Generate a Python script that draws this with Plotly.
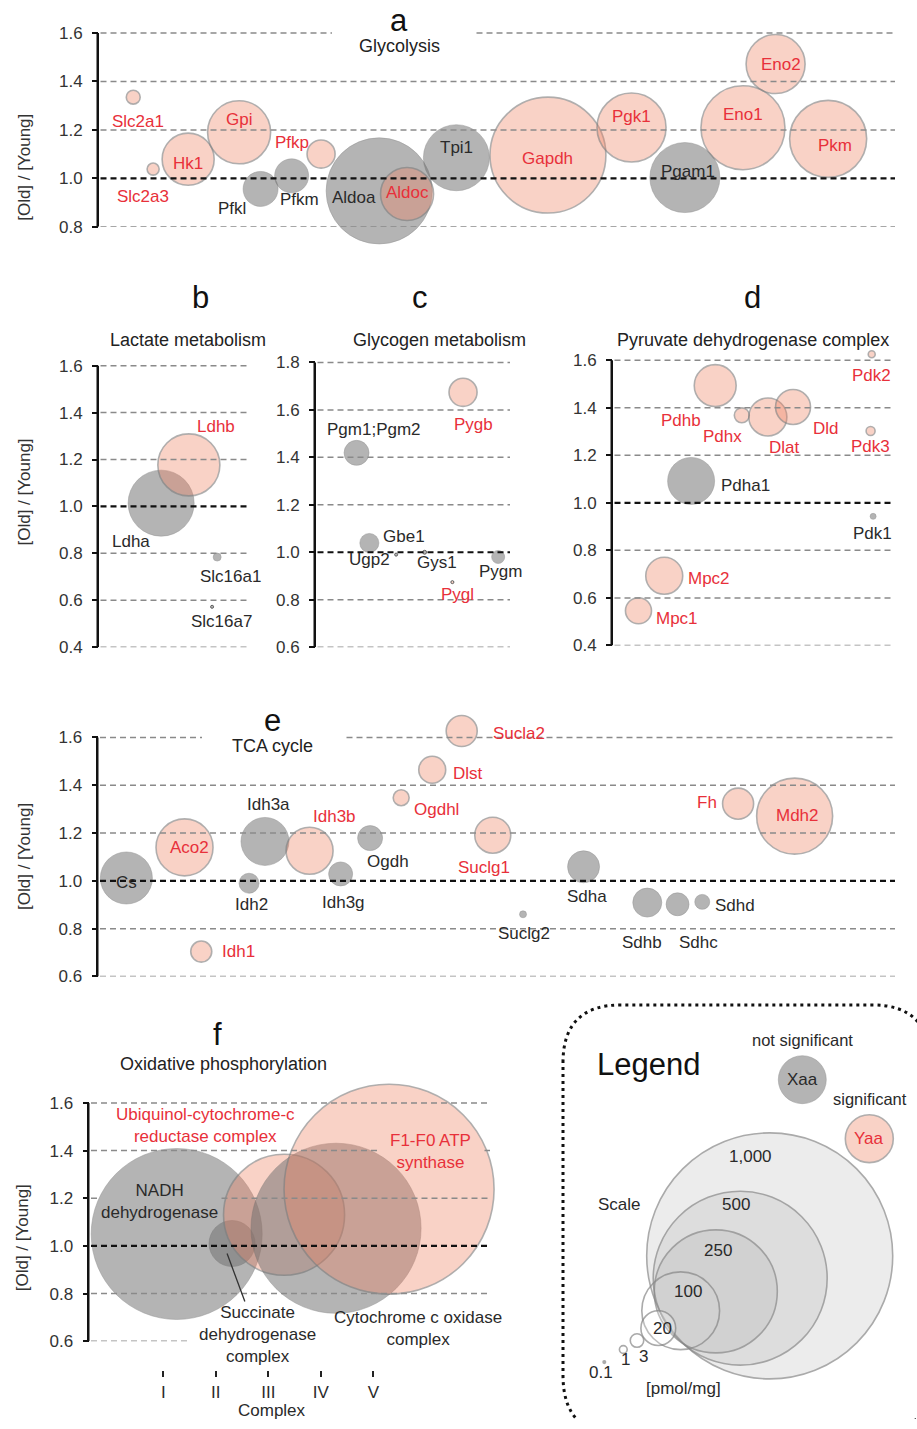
import math
import plotly.graph_objects as go

W, H = 917, 1429

# ---------------- data ----------------
# a  Glycolysis
glyc_genes = ["Slc2a1", "Slc2a3", "Hk1", "Gpi", "Pfkl", "Pfkm", "Pfkp", "Aldoa", "Aldoc",
              "Tpi1", "Gapdh", "Pgk1", "Pgam1", "Eno1", "Eno2", "Pkm"]
glyc_pos = [4.3, 6.8, 11.2, 17.6, 20.3, 24.2, 27.9, 35.2, 38.7, 44.9, 56.4, 66.9, 73.6, 80.9, 85.0, 91.6]
glyc_ratio = [1.335, 1.038, 1.079, 1.19, 0.956, 1.01, 1.10, 0.948, 0.935, 1.085, 1.096, 1.21,
              1.003, 1.209, 1.472, 1.163]
glyc_amount = [3.2, 2.4, 44.7, 65.6, 20.2, 19.1, 13.0, 186, 46.4, 72, 222, 78.7, 81, 116.6, 57.5, 98]
glyc_sig = [1, 1, 1, 1, 0, 0, 1, 0, 1, 0, 1, 1, 0, 1, 1, 1]

# b  Lactate metabolism
lact_genes = ["Ldha", "Ldhb", "Slc16a1", "Slc16a7"]
lact_pos = [41.7, 60.3, 79.3, 75.9]
lact_ratio = [1.014, 1.177, 0.784, 0.572]
lact_amount = [72, 63.5, 1.06, 0.15]
lact_sig = [0, 1, 0, 0]

# c  Glycogen metabolism
glycogen_genes = ["Pgm1;Pgm2", "Ugp2", "Gbe1", "Gys1", "Pygl", "Pygb", "Pygm"]
glycogen_pos = [20.9, 27.5, 41.3, 56.0, 70.3, 75.8, 93.9]
glycogen_ratio = [1.419, 1.039, 0.99, 1.0, 0.874, 1.674, 0.98]
glycogen_amount = [10.3, 6.0, 0.15, 0.25, 0.15, 13.0, 2.8]
glycogen_sig = [0, 0, 0, 0, 1, 1, 0]

# d  Pyruvate dehydrogenase complex
pdh_genes = ["Mpc1", "Mpc2", "Pdha1", "Pdhb", "Pdhx", "Dlat", "Dld", "Pdk1", "Pdk2", "Pdk3"]
pdh_pos = [9.1, 18.3, 27.9, 36.5, 46.0, 55.3, 64.3, 92.9, 92.4, 92.0]
pdh_ratio = [0.546, 0.693, 1.092, 1.493, 1.368, 1.361, 1.403, 0.943, 1.625, 1.302]
pdh_amount = [11.2, 22.6, 36.5, 29.0, 3.7, 23.9, 20.2, 0.6, 0.8, 1.34]
pdh_sig = [1, 1, 0, 1, 1, 1, 1, 0, 1, 1]

# e  TCA cycle
tca_genes = ["Cs", "Aco2", "Idh1", "Idh2", "Idh3a", "Idh3b", "Idh3g", "Ogdh", "Ogdhl", "Dlst",
             "Sucla2", "Suclg1", "Suclg2", "Sdha", "Sdhb", "Sdhc", "Sdhd", "Fh", "Mdh2"]
tca_pos = [3.5, 10.8, 12.9, 18.9, 20.9, 26.5, 30.4, 34.1, 38.0, 41.9, 45.6, 49.5, 53.3, 60.9,
           68.9, 72.7, 75.8, 80.3, 87.4]
tca_ratio = [1.012, 1.14, 0.704, 0.99, 1.165, 1.126, 1.029, 1.179, 1.348, 1.465, 1.627, 1.191,
             0.86, 1.059, 0.909, 0.902, 0.912, 1.323, 1.271]
tca_amount = [44.7, 53.7, 7.3, 6.6, 38, 36.5, 9.5, 10.3, 4.2, 12, 15.9, 21.4, 0.8, 16.9, 13.9,
              8.7, 3.7, 15.9, 95.4]
tca_sig = [0, 1, 1, 0, 0, 1, 0, 0, 1, 1, 1, 1, 0, 0, 0, 0, 0, 1, 1]

# f  Oxidative phosphorylation
ox_complex = ["I", "II", "III", "IV", "V"]
ox_names = ["NADH<br>dehydrogenase", "Succinate<br>dehydrogenase<br>complex",
            "Ubiquinol-cytochrome-c<br>reductase complex", "Cytochrome c oxidase<br>complex",
            "F1-F0 ATP<br>synthase"]
ox_pos = [1.255, 2.31, 3.30, 4.29, 5.30]
ox_ratio = [1.05, 1.01, 1.131, 1.074, 1.238]
ox_amount = [483, 35, 242, 478, 729]
ox_sig = [0, 0, 1, 0, 1]

# legend scale
scale_values = [1000, 500, 250, 100, 20, 3, 1, 0.1]
scale_labels = ["1,000", "500", "250", "100", "20", "3", "1", "0.1"]
example_amount = 38

# ---------------- styling ----------------
FONT = "Liberation Sans, Arial, sans-serif"
RED_TXT = "#e8303a"
DARK_TXT = "#2a2a2a"
RED_FILL = "rgba(240,128,95,0.5)"
GRAY_FILL = "rgba(112,112,112,0.74)"
RED_LINE = "rgba(125,125,125,0.85)"
GRAY_LINE = "rgba(105,105,105,0.5)"
FULL_D = 246.0  # px diameter of 1,000 pmol/mg
PAD = 0.08      # extra room above the top tick so high bubbles stay visible


def diam(a):
    return FULL_D * math.sqrt(a / 1000.0)


def xp(px):
    return px / W


def yp(py):
    return 1 - py / H


panels = {
    "a": dict(ax="", xdom=(99, 895), ypx=(228.3, 33.3), yr=(0.8, 1.6)),
    "b": dict(ax="2", xdom=(99, 248), ypx=(651.7, 368.3), yr=(0.4, 1.6)),
    "c": dict(ax="3", xdom=(316, 510), ypx=(651.7, 365.0), yr=(0.6, 1.8)),
    "d": dict(ax="4", xdom=(613, 893), ypx=(650.0, 362.7), yr=(0.4, 1.6)),
    "e": dict(ax="5", xdom=(98.5, 895), ypx=(983.3, 742.7), yr=(0.6, 1.6)),
    "f": dict(ax="6", xdom=(89.5, 490), ypx=(1350.7, 1110.7), yr=(0.6, 1.6)),
}

fig = go.Figure()
layout = dict(width=W, height=H, margin=dict(l=0, r=0, t=0, b=0),
              paper_bgcolor="white", plot_bgcolor="rgba(0,0,0,0)",
              showlegend=False, font=dict(family=FONT, color=DARK_TXT))
shapes = []
annotations = []

for key, p in panels.items():
    a = p["ax"]
    xname, yname = "xaxis" + a, "yaxis" + a
    lo, hi = p["yr"]
    ppu = (p["ypx"][0] - p["ypx"][1]) / (hi - lo)
    top_px = p["ypx"][1] - PAD * ppu
    xdom = [xp(p["xdom"][0]), xp(p["xdom"][1])]
    ydom = [yp(p["ypx"][0]), yp(top_px)]
    nt = int(round((hi - lo) / 0.2))
    tv = [round(lo + 0.2 * i, 1) for i in range(nt + 1)]
    p["ticks"] = tv
    if key == "f":
        lo_x = 1 - (163.3 - p["xdom"][0]) / 52.5
        hi_x = 1 + (p["xdom"][1] - 163.3) / 52.5
        layout[xname] = dict(domain=xdom, range=[lo_x, hi_x], anchor="free", position=yp(1380),
                             showline=False, showgrid=False, zeroline=False,
                             ticks="outside", ticklen=6, tickwidth=1.5, tickcolor="#222",
                             tickvals=[1, 2, 3, 4, 5], ticktext=ox_complex,
                             tickfont=dict(size=17, color=DARK_TXT, family=FONT))
    else:
        layout[xname] = dict(domain=xdom, range=[0, 100], visible=False, anchor="y" + a)
    layout[yname] = dict(domain=ydom, range=[lo, hi + PAD], anchor="x" + a,
                         showline=False,
                         ticks="outside", ticklen=6, tickwidth=2, tickcolor="#111",
                         tickvals=tv, tickformat=".1f", showgrid=False, zeroline=False,
                         ticklabelstandoff=6,
                         tickfont=dict(size=17, color="#333", family=FONT))
    # vertical axis line only between first and last tick
    shapes.append(dict(type="line", xref="paper", yref="y" + a,
                       x0=xp(p["xdom"][0]) - 1.25 / W, x1=xp(p["xdom"][0]) - 1.25 / W,
                       y0=lo, y1=hi, layer="above",
                       line=dict(color="#111", width=2.5)))

# gridlines (drawn over bubbles like the original)
gaps = {
    ("a", 1.6): [(99, 332), (475, 895)],
    ("e", 1.6): [(98.5, 202), (345, 895)],
    ("f", 1.2): [(89.5, 97), (220, 490)],
    ("f", 1.4): [(89.5, 380), (483, 490)],
    ("f", 0.6): [(89.5, 190)],
}
for key, p in panels.items():
    a = p["ax"]
    for v in p["ticks"]:
        segs = gaps.get((key, v), [p["xdom"]])
        for (s0, s1) in segs:
            is_one = abs(v - 1.0) < 1e-9
            shapes.append(dict(type="line", xref="paper", yref="y" + a,
                               x0=xp(s0 + 1.5), x1=xp(s1), y0=v, y1=v, layer="above",
                               line=dict(color="#111" if is_one else "#8a8a8a",
                                         width=2.2 if is_one else 1.5,
                                         dash="6px,4px")))


def bubble_trace(pos, ratio, amount, sig, a):
    sizes = [max(diam(v), 3) for v in amount]
    fills = [RED_FILL if s else GRAY_FILL for s in sig]
    lines = []
    widths = []
    for v, s in zip(amount, sig):
        if v < 0.5:
            lines.append("#1a1a1a")
            widths.append(1)
        else:
            lines.append(RED_LINE if s else GRAY_LINE)
            widths.append(1.6 if s else 1)
    return go.Scatter(x=pos, y=ratio, xaxis="x" + a, yaxis="y" + a, mode="markers",
                      cliponaxis=False, hoverinfo="skip",
                      marker=dict(size=sizes, sizemode="diameter", color=fills,
                                  line=dict(color=lines, width=widths)))


fig.add_trace(bubble_trace(glyc_pos, glyc_ratio, glyc_amount, glyc_sig, ""))
fig.add_trace(bubble_trace(lact_pos, lact_ratio, lact_amount, lact_sig, "2"))
fig.add_trace(bubble_trace(glycogen_pos, glycogen_ratio, glycogen_amount, glycogen_sig, "3"))
fig.add_trace(bubble_trace(pdh_pos, pdh_ratio, pdh_amount, pdh_sig, "4"))
fig.add_trace(bubble_trace(tca_pos, tca_ratio, tca_amount, tca_sig, "5"))
fig.add_trace(bubble_trace(ox_pos, ox_ratio, ox_amount, ox_sig, "6"))

# label offsets in pixels (dx right, dy up)
label_offsets = {
    "Slc2a1": (5, -24), "Slc2a3": (-10, -27), "Hk1": (0, -4), "Gpi": (0, 13), "Pfkl": (-29, -20),
    "Pfkm": (8, -24), "Pfkp": (-29, 12), "Aldoa": (-25, -7), "Aldoc": (0, 2), "Tpi1": (0, 10),
    "Gapdh": (0, -3), "Pgk1": (0, 11), "Pgam1": (3, 6), "Eno1": (0, 13), "Eno2": (5, 0),
    "Pkm": (7, -7),
    "Ldha": (-30, -38), "Ldhb": (27, 38), "Slc16a1": (13, -19), "Slc16a7": (9, -15),
    "Pgm1;Pgm2": (17, 23), "Ugp2": (0, -17), "Gbe1": (8, 18), "Gys1": (12, -10),
    "Pygl": (5, -12), "Pygb": (10, -32), "Pygm": (2, -15),
    "Pdhb": (-34, -35), "Pdhx": (-19, -21), "Dlat": (17, -31), "Dld": (33, -22), "Pdk2": (0, -21),
    "Pdk3": (0, -15), "Pdha1": (54, -5), "Pdk1": (-1, -17), "Mpc2": (45, -3), "Mpc1": (39, -8),
    "Cs": (0, -5), "Aco2": (5, 0), "Idh1": (37, 0), "Idh2": (2, -21), "Idh3a": (4, 37),
    "Idh3b": (25, 34), "Idh3g": (3, -29), "Ogdh": (18, -23), "Ogdhl": (35, -12), "Dlst": (36, -4),
    "Sucla2": (57, -2), "Suclg1": (-9, -32), "Suclg2": (1, -19), "Sdha": (3, -30),
    "Sdhb": (-5, -40), "Sdhc": (21, -38), "Sdhd": (33, -4), "Fh": (-31, 1), "Mdh2": (3, 1),
}


def add_labels(genes, pos, ratio, sig, a):
    for g, x, y, s in zip(genes, pos, ratio, sig):
        dx, dy = label_offsets[g]
        annotations.append(dict(x=x, y=y, xref="x" + a, yref="y" + a, text=g, showarrow=False,
                                xshift=dx, yshift=dy,
                                font=dict(size=17, color=RED_TXT if s else DARK_TXT, family=FONT)))


add_labels(glyc_genes, glyc_pos, glyc_ratio, glyc_sig, "")
add_labels(lact_genes, lact_pos, lact_ratio, lact_sig, "2")
add_labels(glycogen_genes, glycogen_pos, glycogen_ratio, glycogen_sig, "3")
add_labels(pdh_genes, pdh_pos, pdh_ratio, pdh_sig, "4")
add_labels(tca_genes, tca_pos, tca_ratio, tca_sig, "5")

# oxphos labels
ox_offsets = [(-17, 33), None, (-79, 89), (82, -100), (41, 38)]
for name, x, y, s, off in zip(ox_names, ox_pos, ox_ratio, ox_sig, ox_offsets):
    col = RED_TXT if s else DARK_TXT
    if off is None:
        annotations.append(dict(x=x, y=y, xref="x6", yref="y6", text=name, showarrow=True,
                                arrowhead=0, arrowwidth=1.3, arrowcolor="#333",
                                ax=30, ay=81, xshift=-5, yshift=-10,
                                font=dict(size=17, color=col, family=FONT)))
    else:
        annotations.append(dict(x=x, y=y, xref="x6", yref="y6", text=name, showarrow=False,
                                xshift=off[0], yshift=off[1],
                                font=dict(size=17, color=col, family=FONT)))


def txt(px, py, text, size=17, color=DARK_TXT, angle=0):
    annotations.append(dict(x=xp(px), y=yp(py), xref="paper", yref="paper", text=text,
                            showarrow=False, textangle=angle, xanchor="center", yanchor="middle",
                            font=dict(size=size, color=color, family=FONT)))


# panel titles
for (lx, ly, letter, sx, sy, sub) in [
    (399, 21, "a", 399, 46, "Glycolysis"),
    (200, 300, "b", 188, 342, "Lactate metabolism"),
    (420, 300, "c", 439, 342, "Glycogen metabolism"),
    (752, 300, "d", 753, 342, "Pyruvate dehydrogenase complex"),
    (272, 726, "e", 272, 751, "TCA cycle"),
    (217, 1042, "f", 223, 1071, "Oxidative phosphorylation"),
]:
    txt(lx, ly, letter, size=31, color="#111")
    txt(sx, sy, sub, size=18, color="#222")

for (px, py) in [(25, 169), (25, 496), (25, 863), (22, 1247)]:
    txt(px, py, "[Old] / [Young]", size=17, color="#333", angle=-90)

txt(272, 1420, "Complex", size=17)

# ---------------- legend ----------------
layout["xaxis7"] = dict(domain=[0, 1], range=[0, W], visible=False, anchor="y7")
layout["yaxis7"] = dict(domain=[0, 1], range=[H, 0], visible=False, anchor="x7")

scale_centers = [(769.7, 1264.7), (740.2, 1287.2), (715.8, 1300.5), (680.7, 1320.0),
                 (658.3, 1337.5), (637.0, 1350.0), (623.3, 1359.0), (604.3, 1371.7)]
scale_fill = ["rgba(170,170,170,0.30)", "rgba(170,170,170,0.30)", "rgba(170,170,170,0.30)",
              "rgba(255,255,255,0)", "rgba(255,255,255,0.35)", "rgba(255,255,255,0.8)",
              "rgba(255,255,255,0.8)", "rgba(150,150,150,1)"]
fig.add_trace(go.Scatter(
    x=[c[0] for c in scale_centers], y=[c[1] for c in scale_centers], xaxis="x7", yaxis="y7",
    mode="markers", hoverinfo="skip", cliponaxis=False,
    marker=dict(size=[max(diam(v), 2.5) for v in scale_values], sizemode="diameter",
                color=scale_fill, line=dict(color="rgba(135,135,135,1)", width=1.6))))
scale_label_pos = [(750, 1165), (736, 1213), (718, 1259), (688, 1301), (662, 1338),
                   (643, 1366), (625, 1369), (601, 1382)]
for (px, py), lab in zip(scale_label_pos, scale_labels):
    txt(px, py, lab, size=17)

# significance examples
ex_centers = [(802.3, 1087.3), (869.3, 1146.7)]
fig.add_trace(go.Scatter(
    x=[c[0] for c in ex_centers], y=[c[1] for c in ex_centers], xaxis="x7", yaxis="y7",
    mode="markers", hoverinfo="skip", cliponaxis=False,
    marker=dict(size=[diam(example_amount)] * 2, sizemode="diameter",
                color=[GRAY_FILL, RED_FILL], line=dict(color=[GRAY_LINE, RED_LINE], width=[1, 1.6]))))
txt(802.3, 1087.3, "Xaa", size=17, color=DARK_TXT)
txt(869.3, 1146.7, "Yaa", size=17, color=RED_TXT)
txt(802, 1047, "not significant", size=16.5)
txt(870, 1107, "significant", size=16.5)
txt(648, 1072, "Legend", size=31, color="#111")
txt(619, 1213, "Scale", size=17)
txt(683, 1398, "[pmol/mg]", size=17)

shapes.append(dict(type="path", xref="x7", yref="y7",
                   path="M 563,1070 Q 563,1012 621,1012 L 872,1012 Q 930,1012 930,1070 "
                        "L 930,1385 Q 930,1445 872,1445 L 621,1445 Q 563,1445 563,1385 Z",
                   line=dict(color="#111", width=3, dash="3px,4px"), layer="above"))

layout["shapes"] = shapes
layout["annotations"] = annotations
fig.update_layout(**layout)
fig.write_html("out.html", config={"displayModeBar": False},
               post_script="document.body.style.margin='0';document.body.style.overflow='hidden';")
